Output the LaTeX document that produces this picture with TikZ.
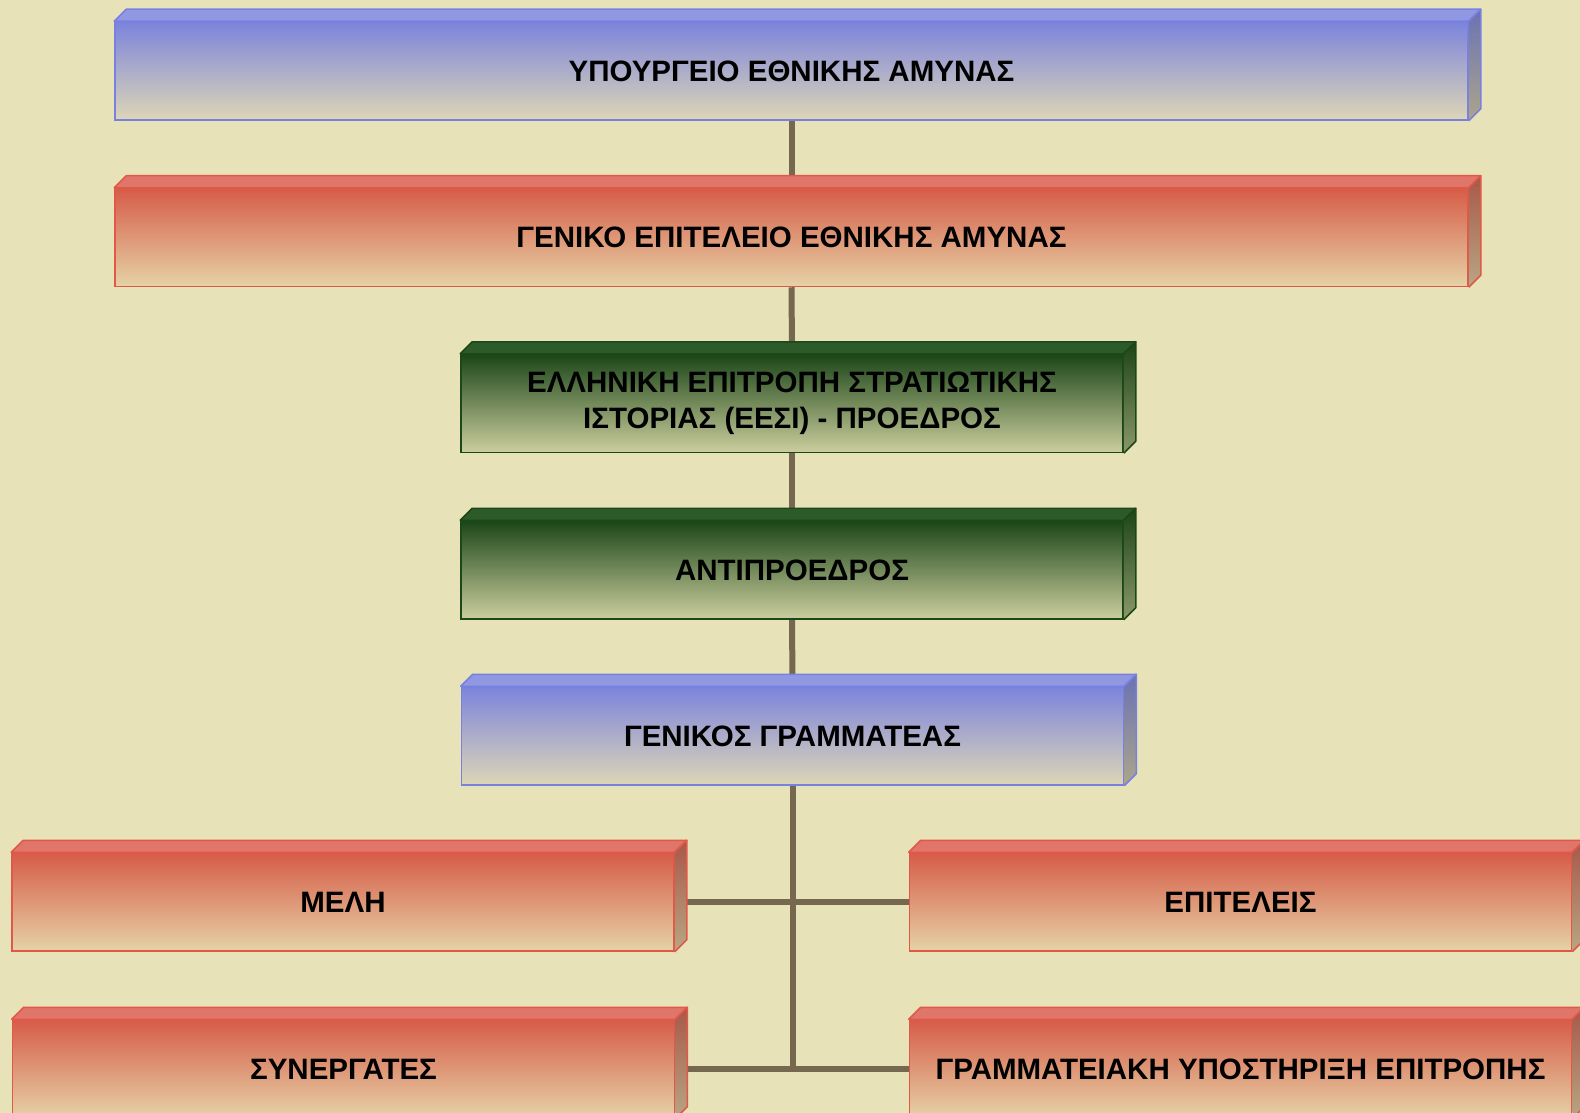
\documentclass[tikz,border=0pt]{standalone}
\usepackage{fontspec}
\setmainfont{Liberation Sans}
\usetikzlibrary{calc}
\pgfdeclarelayer{bglayer}
\pgfdeclarelayer{connlayer}
\pgfsetlayers{bglayer,connlayer,main}
\definecolor{bg}{HTML}{E8E2B8}
\definecolor{conn}{HTML}{76674F}
\definecolor{blueTop}{HTML}{7C84DC}
\definecolor{blueBot}{HTML}{DDD6B6}
\definecolor{blueLine}{HTML}{7880E0}
\definecolor{blueFace}{HTML}{9098E2}
\definecolor{blueSideT}{HTML}{6A72B4}
\definecolor{blueSideB}{HTML}{ACA68A}
\definecolor{redTop}{HTML}{D65C48}
\definecolor{redBot}{HTML}{E6D2A6}
\definecolor{redLine}{HTML}{E05848}
\definecolor{redFace}{HTML}{E0766A}
\definecolor{redSideT}{HTML}{A85848}
\definecolor{redSideB}{HTML}{B8A684}
\definecolor{greenTop}{HTML}{1C4618}
\definecolor{greenBot}{HTML}{CCCE9E}
\definecolor{greenLine}{HTML}{1C4818}
\definecolor{greenFace}{HTML}{2C5A28}
\definecolor{greenSideT}{HTML}{1C4418}
\definecolor{greenSideB}{HTML}{8C9868}
\tikzset{
  box/.style={rectangle, inner sep=0pt, line width=1.5pt, align=center,
    font=\fontsize{29.5}{36.5}\selectfont\bfseries, text=black},
  widebox/.style={box, minimum width=1353pt, minimum height=98pt},
  midbox/.style={box, minimum width=662pt, minimum height=98pt},
  bluebox/.style={draw=blueLine, top color=blueTop, bottom color=blueBot},
  redbox/.style={draw=redLine, top color=redTop, bottom color=redBot},
  greenbox/.style={draw=greenLine, top color=greenTop, bottom color=greenBot},
  connector/.style={draw=conn, line width=6pt},
}
\newcommand{\bevel}[5]{%
  \filldraw[draw=#2, fill=#3, line width=1.5pt, line join=round]
    (#1.north west) -- ++(12,-12) -- ([shift={(12,-12)}]#1.north east) -- (#1.north east) -- cycle;
  \shade[top color=#4, bottom color=#5]
    (#1.north east) -- ++(12,-12) -- ([shift={(12,-12)}]#1.south east) -- (#1.south east) -- cycle;
  \draw[draw=#2, line width=1.5pt, line join=round]
    (#1.north east) -- ++(12,-12) -- ([shift={(12,-12)}]#1.south east) -- (#1.south east);
}
\begin{document}
\begin{tikzpicture}[x=1pt,y=-1pt]
\useasboundingbox (0,0) rectangle (1580,1113);
\clip (0,0) rectangle (1580,1113);
\begin{pgfonlayer}{bglayer}
\fill[bg] (0,0) rectangle (1580,1113);
\end{pgfonlayer}

\node[widebox, bluebox] (b1) at (791.5,71) {ΥΠΟΥΡΓΕΙΟ ΕΘΝΙΚΗΣ ΑΜΥΝΑΣ};
\node[widebox, redbox] (b2) at (791.5,237.5) {ΓΕΝΙΚΟ ΕΠΙΤΕΛΕΙΟ ΕΘΝΙΚΗΣ ΑΜΥΝΑΣ};
\node[midbox, greenbox] (b3) at (792,403.5) {ΕΛΛΗΝΙΚΗ ΕΠΙΤΡΟΠΗ ΣΤΡΑΤΙΩΤΙΚΗΣ\\ΙΣΤΟΡΙΑΣ (ΕΕΣΙ) - ΠΡΟΕΔΡΟΣ};
\node[midbox, greenbox] (b4) at (792,570) {ΑΝΤΙΠΡΟΕΔΡΟΣ};
\node[midbox, bluebox] (b5) at (792.5,736) {ΓΕΝΙΚΟΣ ΓΡΑΜΜΑΤΕΑΣ};
\node[midbox, redbox] (b6) at (343,902) {ΜΕΛΗ};
\node[midbox, redbox] (b7) at (1240.5,902) {ΕΠΙΤΕΛΕΙΣ};
\node[midbox, redbox] (b8) at (343.5,1069) {ΣΥΝΕΡΓΑΤΕΣ};
\node[midbox, redbox] (b9) at (1240.5,1069) {ΓΡΑΜΜΑΤΕΙΑΚΗ ΥΠΟΣΤΗΡΙΞΗ ΕΠΙΤΡΟΠΗΣ};

\bevel{b1}{blueLine}{blueFace}{blueSideT}{blueSideB}
\bevel{b2}{redLine}{redFace}{redSideT}{redSideB}
\bevel{b3}{greenLine}{greenFace}{greenSideT}{greenSideB}
\bevel{b4}{greenLine}{greenFace}{greenSideT}{greenSideB}
\bevel{b5}{blueLine}{blueFace}{blueSideT}{blueSideB}
\bevel{b6}{redLine}{redFace}{redSideT}{redSideB}
\bevel{b7}{redLine}{redFace}{redSideT}{redSideB}
\bevel{b8}{redLine}{redFace}{redSideT}{redSideB}
\bevel{b9}{redLine}{redFace}{redSideT}{redSideB}

\begin{pgfonlayer}{connlayer}
\coordinate (tj) at (b5.south |- b8.east);
\path[connector] (b1) -- (b2);
\path[connector] (b2) -- (b3);
\path[connector] (b3) -- (b4);
\path[connector] (b4) -- (b5);
\path[connector] (b5.south) -- ([yshift=-3pt]tj);
\path[connector] (b6) -- (b7);
\path[connector] (b8) -- (b9);
\end{pgfonlayer}
\end{tikzpicture}
\end{document}
